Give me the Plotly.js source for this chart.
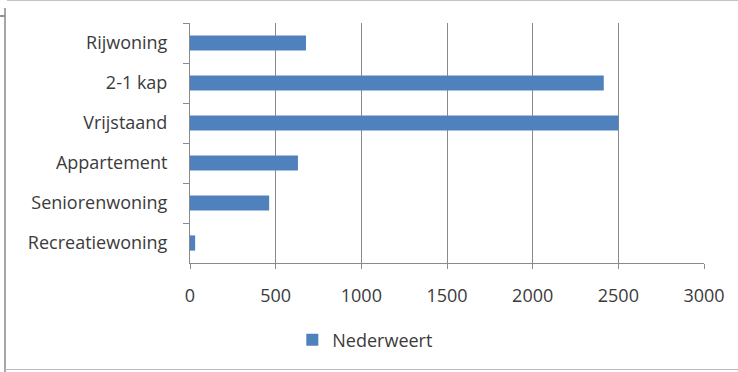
<!DOCTYPE html>
<html>
<head>
<meta charset="utf-8">
<script src="https://cdn.plot.ly/plotly-3.0.1.min.js"></script>
<style>
html,body{margin:0;padding:0;background:#fff;}
#wrap{position:relative;width:738px;height:372px;overflow:hidden;}
#chart{width:738px;height:372px;}
.deco{position:absolute;pointer-events:none;}
</style>
</head>
<body>
<div id="wrap">
<div id="chart"></div>
<div class="deco" style="left:4px;top:8px;width:2px;height:364px;background:#a6a6a6;"></div>
<div class="deco" style="left:7px;top:0;width:731px;height:1px;background:#c4c4c4;"></div>
<div class="deco" style="left:0;top:15px;width:5px;height:2px;background:#909090;"></div>
<div class="deco" style="left:5px;top:369px;width:733px;height:1px;background:#bdbdbd;"></div>
</div>
<script>
const categories = ["Rijwoning", "2-1 kap", "Vrijstaand", "Appartement", "Seniorenwoning", "Recreatiewoning"];
const nederweert = [677, 2415, 2500, 630, 462, 30];
const xTicks = [0, 500, 1000, 1500, 2000, 2500, 3000];
const seriesName = "Nederweert";

const font = {family: "Open Sans, Liberation Sans, sans-serif", size: 18, color: "#3b3b3b"};
const grid = "#8a8a8a";

const data = [{
  type: "bar",
  orientation: "h",
  y: categories,
  x: nederweert,
  name: seriesName,
  marker: {color: "#4f81bd"},
  showlegend: true
}];

const layout = {
  width: 738, height: 372,
  margin: {l: 190, r: 34, t: 23, b: 109, pad: 0},
  paper_bgcolor: "#fff", plot_bgcolor: "#fff",
  font: font,
  bargap: 0.62,
  showlegend: true,
  xaxis: {
    range: [0, 3000], tickvals: xTicks, ticktext: xTicks.map(String),
    showgrid: true, gridcolor: grid, gridwidth: 1,
    zeroline: false, showline: true, linecolor: grid, linewidth: 1,
    ticks: "outside", ticklen: 5, tickcolor: grid,
    ticklabelstandoff: 11,
    tickfont: font, fixedrange: true
  },
  yaxis: {
    type: "category", autorange: "reversed",
    showgrid: false, zeroline: false,
    showline: true, linecolor: grid, linewidth: 1,
    ticks: "outside", ticklen: 6, tickcolor: grid, tickson: "boundaries",
    ticklabelstandoff: 18,
    tickfont: font, fixedrange: true
  },
  legend: {
    orientation: "h", xref: "container", yref: "container",
    x: 0.495, xanchor: "center", y: 0.086, yanchor: "middle",
    font: font, itemwidth: 30
  }
};

Plotly.newPlot("chart", data, layout, {displayModeBar: false, staticPlot: true});
</script>
</body>
</html>
